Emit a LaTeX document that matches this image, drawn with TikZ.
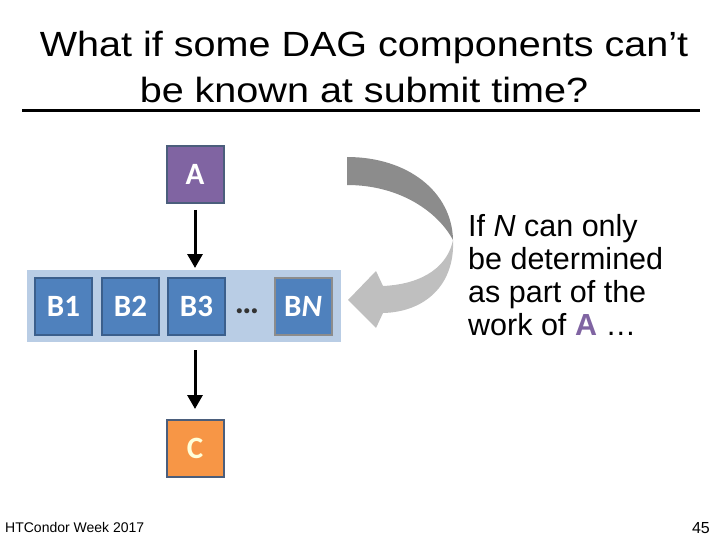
\documentclass[tikz,border=0pt]{standalone}
\usepackage{fontspec}
\setmainfont{Liberation Sans}
\newfontfamily\titlefont[FakeStretch=1.13]{Liberation Sans}
\newfontfamily\calib{Carlito}
\usetikzlibrary{arrows.meta}
\definecolor{apurple}{HTML}{8064A2}
\definecolor{bblue}{HTML}{4F81BD}
\definecolor{bborder}{HTML}{3B5F8C}
\definecolor{aborder}{HTML}{4B5E7C}
\definecolor{corange}{HTML}{F79646}
\definecolor{bandblue}{HTML}{B9CDE5}
\definecolor{darkarrow}{HTML}{8C8C8C}
\definecolor{lightarrow}{HTML}{BFBFBF}
\definecolor{ctext}{HTML}{FFFFD9}
\tikzset{
  jobbox/.style={draw=bborder, line width=2pt, fill=bblue, minimum width=57pt, minimum height=57pt, inner sep=0pt, text=white, font=\calib\bfseries\fontsize{31}{34}\selectfont},
  dagarrow/.style={line width=3pt, -{Triangle[width=15pt,length=14pt]}},
}
\begin{document}
\begin{tikzpicture}[x=1pt,y=-1pt]
\useasboundingbox (0,0) rectangle (720,540);
% title
\node[font=\titlefont\fontsize{35}{46}\selectfont, anchor=base, inner sep=0pt] (t1) at (364,57) {What if some DAG components can’t};
\node[font=\titlefont\fontsize{35}{46}\selectfont, anchor=base, inner sep=0pt] (t2) at (364,103) {be known at submit time?};
\draw[line width=3pt] (22,110.5) coordinate (l1) -- (700,110.5) coordinate (l2);
% band
\fill[bandblue] (27,270) rectangle (341,342);
% boxes
\node[jobbox, draw=aborder, fill=apurple] (A) at (195,174.5) {A};
\node[jobbox] (B1) at (63.5,306.5) {B1};
\node[jobbox] (B2) at (130.5,306.5) {B2};
\node[jobbox] (B3) at (196.5,306.5) {B3};
\node[jobbox, draw=gray!90] (BN) at (303,306.5) {B\textit{N}};
\node[font=\calib\bfseries\fontsize{34}{36}\selectfont, text=black!80] (dots) at (247,311) {…};
\node[jobbox, draw=aborder, fill=corange, text=ctext] (C) at (195,448.5) {C};
% arrows
\draw[dagarrow, shorten <=6pt, shorten >=9pt] (A) -- (A |- B3.north);
\draw[dagarrow, shorten <=14pt, shorten >=10pt] (A |- B3.south) -- (C);
% curved arrow
\fill[darkarrow] (347,157) .. controls (408,157) and (452,192) .. (453,240)
   .. controls (438,212) and (400,185) .. (347,185) -- cycle;
\fill[lightarrow] (453,240) .. controls (455,285) and (425,312) .. (383,313)
   -- (376,328) -- (348,300) -- (376,271) -- (383,286)
   .. controls (425,284) and (448,265) .. (453,240) -- cycle;
% right text
\node[anchor=base west, font=\fontsize{30.5}{32.7}\selectfont, align=left, inner sep=0pt] (txt) at (468,335)
  {If \textit{N} can only\\be determined\\as part of the\\work of \textbf{\textcolor{apurple}{A}} …};
% footer
\node[anchor=base west, font=\fontsize{14}{16}\selectfont, inner sep=0pt] (foot) at (5,532) {HTCondor Week 2017};
\node[anchor=base east, font=\fontsize{16}{18}\selectfont, inner sep=0pt] (num) at (710,533) {45};
\end{tikzpicture}
\end{document}
